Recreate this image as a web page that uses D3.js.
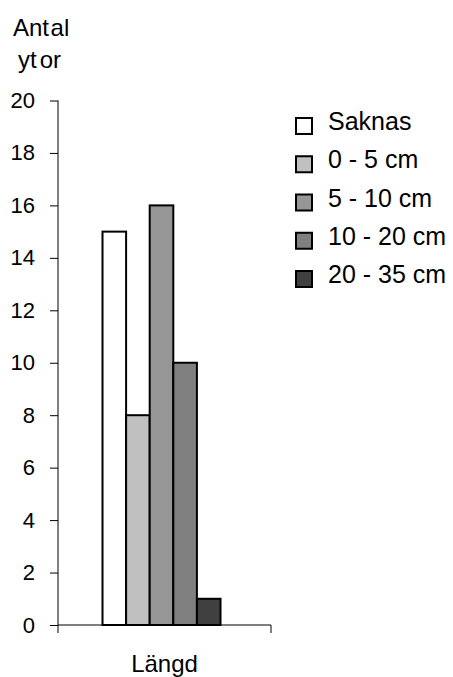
<!DOCTYPE html>
<html>
<head>
<meta charset="utf-8">
<script src="https://cdn.jsdelivr.net/npm/d3@7"></script>
<style>
  html, body { margin: 0; padding: 0; background: #fff; }
  svg { display: block; }
  text { font-family: "Liberation Sans", Arial, sans-serif; fill: #000; }
</style>
</head>
<body>
<svg id="chart" width="453" height="677"></svg>
<script>
// Number of plots per length class of the measured object
const categories = ["Längd"];
const series = ["Saknas", "0 - 5 cm", "5 - 10 cm", "10 - 20 cm", "20 - 35 cm"];
const values = [15, 8, 16, 10, 1];
const colors = ["#ffffff", "#c0c0c0", "#969696", "#808080", "#404040"];
const yTicks = [0, 2, 4, 6, 8, 10, 12, 14, 16, 18, 20];

const svg = d3.select("#chart");
const tickFont = 22;
const labelFont = 24;
const legendFont = 25;

const plot = { left: 58, right: 271, top: 100.5, bottom: 625 };

const y = d3.scaleLinear().domain([0, 20]).range([plot.bottom, plot.top]);
const x = d3.scaleBand().domain(categories).range([plot.left, plot.right]);
// bars of one category sit side by side in the middle of the band
const groupWidth = 118;
const groupMid = x("Längd") + x.bandwidth() / 2 - 3;
const xs = d3.scaleBand().domain(series)
  .range([groupMid - groupWidth / 2, groupMid + groupWidth / 2]);

// y axis
const yAxis = d3.axisLeft(y).tickValues(yTicks).tickSize(8).tickPadding(15).tickFormat(d3.format("d"));
const gy = svg.append("g").attr("transform", `translate(${plot.left},0)`).call(yAxis);
gy.select(".domain").attr("d", `M0,${plot.top}V${plot.bottom + 8}`).attr("stroke", "#000").attr("stroke-width", 1);
gy.selectAll(".tick line").attr("stroke", "#000");
gy.selectAll(".tick text")
  .attr("font-size", tickFont)
  .attr("font-family", "Liberation Sans, Arial, sans-serif");

// bars
svg.append("g").selectAll("rect")
  .data(series.map((s, i) => ({ s, v: values[i], c: colors[i] })))
  .join("rect")
  .attr("x", d => xs(d.s))
  .attr("width", xs.bandwidth())
  .attr("y", d => y(d.v))
  .attr("height", d => y(0) - y(d.v))
  .attr("fill", d => d.c)
  .attr("stroke", "#000")
  .attr("stroke-width", 2);

// x axis
const xAxis = d3.axisBottom(x).tickSize(0).tickFormat("");
const gx = svg.append("g").attr("transform", `translate(0,${plot.bottom})`).call(xAxis);
gx.select(".domain").attr("d", `M${plot.left},0H${plot.right}V8`).attr("stroke", "#000").attr("fill", "none").attr("stroke-width", 1);

// category label
svg.append("text")
  .attr("x", x("Längd") + x.bandwidth() / 2)
  .attr("y", 671.5)
  .attr("text-anchor", "middle")
  .attr("font-size", labelFont)
  .text(categories[0]);

// y axis title, two lines
const t1 = svg.append("text").attr("x", 13).attr("y", 36).attr("font-size", labelFont);
t1.append("tspan").text("Ant");
t1.append("tspan").attr("dx", 1.5).text("al");
const t2 = svg.append("text").attr("x", 18).attr("y", 68).attr("font-size", labelFont);
t2.append("tspan").text("yt");
t2.append("tspan").attr("dx", 3).text("or");

// legend
const legend = svg.append("g").attr("transform", "translate(296,0)");
const rowY = d3.scalePoint().domain(series).range([130, 283]);
const items = legend.selectAll("g").data(series).join("g")
  .attr("transform", d => `translate(0,${rowY(d)})`);
items.append("rect")
  .attr("x", 0).attr("y", -12).attr("width", 16).attr("height", 16)
  .attr("fill", (d, i) => colors[i]).attr("stroke", "#000").attr("stroke-width", 2);
items.append("text")
  .attr("x", 32).attr("y", 0)
  .attr("font-size", legendFont)
  .text(d => d);
</script>
</body>
</html>
